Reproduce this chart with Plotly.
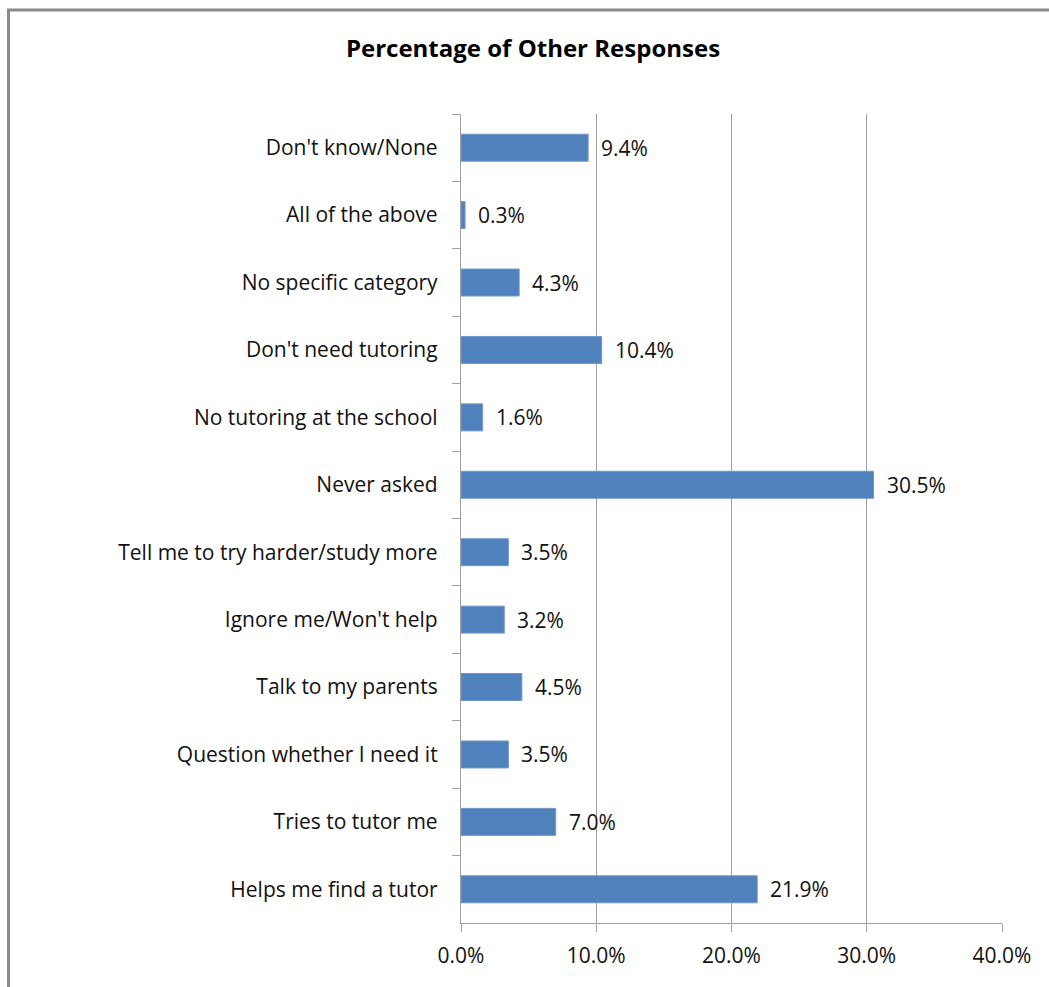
import plotly.graph_objects as go

# Response categories, listed top to bottom as shown on the chart
categories = [
    "Don't know/None",
    "All of the above",
    "No specific category",
    "Don't need tutoring",
    "No tutoring at the school",
    "Never asked",
    "Tell me to try harder/study more",
    "Ignore me/Won't help",
    "Talk to my parents",
    "Question whether I need it",
    "Tries to tutor me",
    "Helps me find a tutor",
]

# Percentage of respondents per category
percentages = [9.4, 0.3, 4.3, 10.4, 1.6, 30.5, 3.5, 3.2, 4.5, 3.5, 7.0, 21.9]

x_ticks = [0, 10, 20, 30, 40]
x_tick_labels = [f"{v:.1f}%" for v in x_ticks]

BAR_COLOR = "#4F81BD"
AXIS_COLOR = "#A0A0A0"
FONT = "'Open Sans', Lato, sans-serif"
TEXT_SIZE = 21

fig = go.Figure()
fig.add_trace(
    go.Bar(
        x=percentages,
        y=categories,
        orientation="h",
        marker=dict(color=BAR_COLOR, line=dict(color="#6F97C9", width=1)),
        hoverinfo="x+y",
    )
)

# Value labels just past the end of each bar
for cat, val in zip(categories, percentages):
    fig.add_annotation(
        x=val,
        y=cat,
        text=f"{val:.1f}%",
        showarrow=False,
        xanchor="left",
        xshift=11,
        font=dict(family=FONT, size=TEXT_SIZE, color="#111"),
    )

# Outer chart frame (left and top edges visible)
fig.add_shape(
    type="rect",
    xref="paper",
    yref="paper",
    x0=(8.5 - 461) / 541,
    x1=(1070 - 461) / 541,
    y0=(923 - 1010) / 809,
    y1=(923 - 10) / 809,
    line=dict(color="#8A8A8A", width=3),
    fillcolor="rgba(0,0,0,0)",
    layer="below",
)

fig.update_layout(
    width=1049,
    height=987,
    margin=dict(l=461, r=47, t=114, b=64),
    paper_bgcolor="white",
    plot_bgcolor="white",
    showlegend=False,
    bargap=0.6,
    font=dict(family=FONT, size=TEXT_SIZE, color="#111"),
    title=dict(
        text="<b>Percentage of Other Responses</b>",
        x=533 / 1049,
        xanchor="center",
        y=1 - 49 / 987,
        yanchor="middle",
        font=dict(family=FONT, size=24, color="#000"),
    ),
    xaxis=dict(
        range=[0, 40],
        tickvals=x_ticks,
        ticktext=x_tick_labels,
        showgrid=True,
        gridcolor=AXIS_COLOR,
        gridwidth=1.3,
        showline=True,
        linecolor=AXIS_COLOR,
        linewidth=1.3,
        ticks="outside",
        ticklen=8,
        tickcolor=AXIS_COLOR,
        ticklabelstandoff=6,
        zeroline=False,
        fixedrange=True,
    ),
    yaxis=dict(
        categoryorder="array",
        categoryarray=categories,
        autorange="reversed",
        showgrid=False,
        showline=True,
        linecolor=AXIS_COLOR,
        linewidth=1.3,
        ticks="outside",
        tickson="boundaries",
        ticklen=8,
        tickcolor=AXIS_COLOR,
        ticklabelstandoff=18,
        fixedrange=True,
    ),
)

fig.write_html("out.html")
